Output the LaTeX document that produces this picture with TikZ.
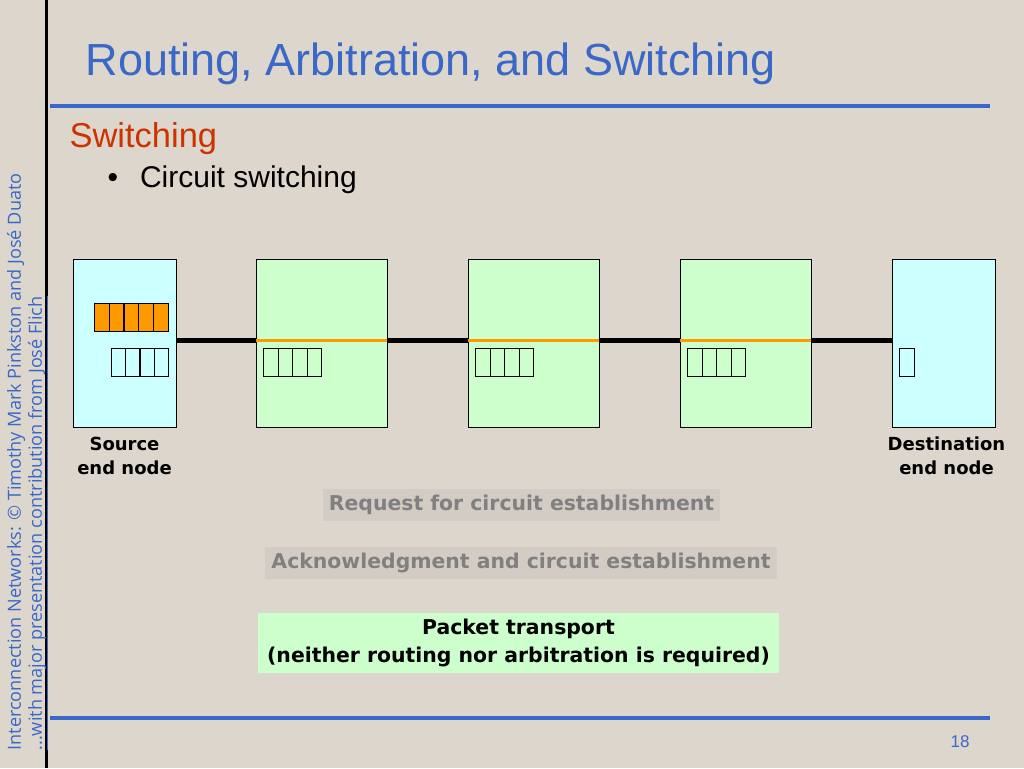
\documentclass[tikz,border=0pt]{standalone}
\usepackage{fontspec}
\setmainfont{Liberation Sans}
\newfontfamily\labelfont{DejaVu Sans}
\newfontfamily\sidefont{Open Sans}
\usetikzlibrary{positioning}
\definecolor{paper}{HTML}{DDD6CD}
\definecolor{titleblue}{HTML}{3A68C8}
\definecolor{subred}{HTML}{CC3300}
\definecolor{endfill}{HTML}{CCFFFF}
\definecolor{swfill}{HTML}{CCFFCC}
\definecolor{circ}{HTML}{FF9900}
\definecolor{msgfill}{HTML}{D3CCC5}
\begin{document}
\begin{tikzpicture}[x=1pt,y=-1pt,
  endnode/.style = {draw, fill=endfill, minimum width=103pt, minimum height=168pt, inner sep=0pt},
  switch/.style = {draw, fill=swfill, minimum width=131pt, minimum height=168pt, inner sep=0pt},
  link/.style = {line width=5pt},
  circuit/.style = {circ, line width=3pt},
  cell/.style = {draw, minimum width=14.6pt, minimum height=28pt, inner sep=0pt},
  lbl/.style = {font=\labelfont\bfseries\fontsize{18}{24}\selectfont, align=center},
  msg/.style = {font=\labelfont\bfseries\fontsize{20.4}{28}\selectfont, inner sep=6pt, align=center},
]
  \useasboundingbox[fill=paper] (0,0) rectangle (1024,768);
  \draw[line width=3pt] (46,0) -- (46,768);

  % title and rules
  \node[anchor=west, text=titleblue, font=\fontsize{45}{52}\selectfont] (title) at (82,64) {Routing, Arbitration, and Switching};
  \draw[titleblue, line width=3.5pt] (50,106) -- (990,106);
  \draw[titleblue, line width=3.5pt] (50,718) -- (990,718);
  \node[anchor=west, text=subred, font=\fontsize{34.5}{40}\selectfont] (sub) at (66,139) {Switching};
  \node[anchor=west, font=\fontsize{30}{36}\selectfont] (item) at (104,180) {\textbullet\hspace{22pt}Circuit switching};
  \node[text=titleblue, font=\fontsize{17}{20}\selectfont] (page) at (960,742) {18};

  % side credits
  \node[rotate=90, anchor=west, text=titleblue, font=\sidefont\fontsize{18.1}{22}\selectfont] (credit) at (16,754)
    {Interconnection Networks: \textcopyright\ Timothy Mark Pinkston and José Duato};
  \node[rotate=90, anchor=west, text=titleblue, font=\sidefont\fontsize{18.1}{22}\selectfont] (credit2) at (38,754)
    {\underline{...with major presentation contribution from José Flich}};

  % nodes
  \node[endnode] (src) at (124.5,343) {};
  \node[switch] (sw1) at (321.5,343) {};
  \node[switch] (sw2) at (533.5,343) {};
  \node[switch] (sw3) at (745.5,343) {};
  \node[endnode] (dst) at (943.5,343) {};

  % links and circuit
  \draw[link] ([yshift=3pt]src.east) -- ([yshift=3pt]sw1.west);
  \draw[link] ([yshift=3pt]sw1.east) -- ([yshift=3pt]sw2.west);
  \draw[link] ([yshift=3pt]sw2.east) -- ([yshift=3pt]sw3.west);
  \draw[link] ([yshift=3pt]sw3.east) -- ([yshift=3pt]dst.west);
  \foreach \s in {sw1,sw2,sw3}
    \draw[circuit] ([yshift=3pt]\s.west) -- ([yshift=3pt]\s.east);

  % buffers
  \foreach \i in {0,...,4}
    \node[cell, fill=circ, anchor=north west] (pk\i) at (94+\i*14.8,303) {};
  \foreach \i in {0,...,3}
    \node[cell, anchor=north west] (sb\i) at (110.6+\i*14.4,347.5) {};
  \foreach \x/\n in {263/a,475/b,687/c}
    \foreach \i in {0,...,3}
      \node[cell, anchor=north west] (\n\i) at (\x+\i*14.6,347.5) {};
  \node[cell, anchor=north west] (db) at (899,347.5) {};

  % labels
  \node[lbl, below=6pt of src] (srclbl) {Source\\ end node};
  \node[lbl, below=6pt of dst, xshift=3pt] (dstlbl) {Destination\\ end node};

  % messages
  \node[msg, fill=msgfill, text=gray] (req) at (521.5,505) {Request for circuit establishment};
  \node[msg, fill=msgfill, text=gray] (ack) at (521,563) {Acknowledgment and circuit establishment};
  \node[msg, fill=swfill, minimum width=521pt, inner sep=6pt] (pkt) at (518.5,643) {Packet transport\\(neither routing nor arbitration is required)};
\end{tikzpicture}
\end{document}
